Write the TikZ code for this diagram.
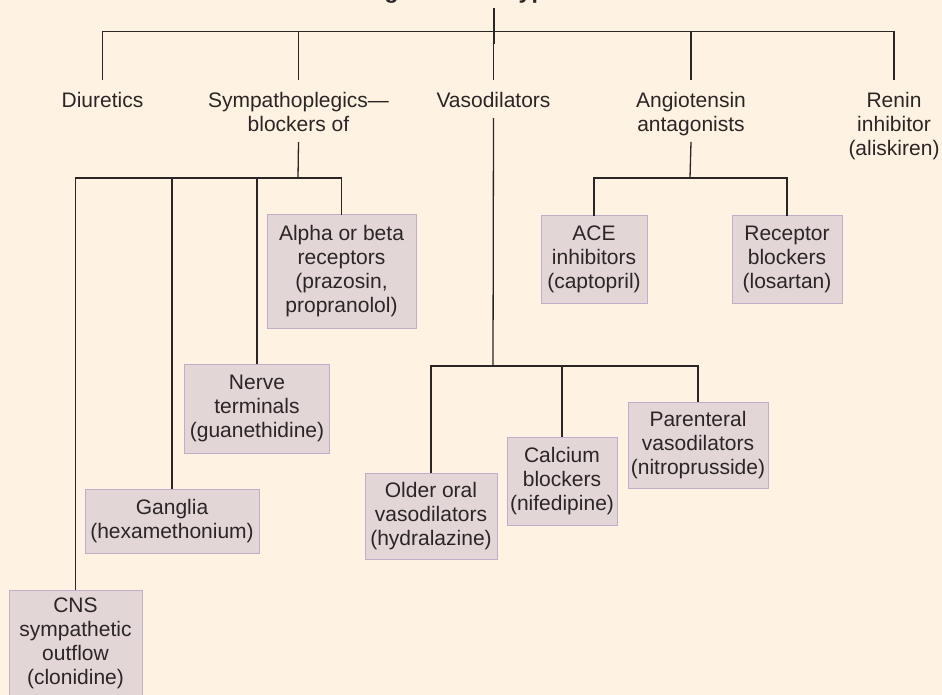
\documentclass[tikz,border=0pt]{standalone}
\usepackage{fontspec}
\setmainfont{Liberation Sans}
\definecolor{bg}{HTML}{FEF3E2}
\definecolor{boxfill}{HTML}{E2D6D7}
\definecolor{boxline}{HTML}{C2ADC9}
\definecolor{ink}{HTML}{2B2526}
\begin{document}
\begin{tikzpicture}[x=1pt,y=-1pt,
  conn/.style={draw=ink, line width=1.3pt},
  lab/.style={text=ink, align=center, inner sep=0pt, outer sep=0pt,
    font=\fontsize{21}{24}\selectfont},
  drugbox/.style={lab, draw=boxline, fill=boxfill, line width=1pt}]
\useasboundingbox (0,0) rectangle (942,695);
\clip (0,0) rectangle (942,695);
\fill[bg] (0,0) rectangle (942,695);

% title (cut off at top edge)
\node[text=ink, inner sep=0pt, anchor=base, font=\bfseries\fontsize{23}{27}\selectfont]
  (title) at (497,-1.5) {Drugs used in hypertension};
\coordinate (roothub) at (494,44);

% first level labels
\node[lab] (diur)  at (102.5,100) {Diuretics};
\node[lab] (symp)  at (298.5,112) {Sympathoplegics---\\blockers of};
\node[lab] (vaso)  at (493.5,100) {Vasodilators};
\node[lab] (angio) at (691,114.2) {Angiotensin\\antagonists};
\node[lab] (renin) at (894,126.2) {Renin\\inhibitor\\(aliskiren)};

% sympathoplegic boxes
\node[drugbox, minimum width=149, minimum height=113] (alpha) at (341.5,271.5)
  {Alpha or beta\\receptors\\(prazosin,\\propranolol)};
\node[drugbox, minimum width=145, minimum height=89] (nerve) at (257,408.5)
  {Nerve\\terminals\\(guanethidine)};
\node[drugbox, minimum width=174, minimum height=64] (gang) at (172,521)
  {Ganglia\\(hexamethonium)};
\node[drugbox, minimum width=133, minimum height=107] (cns) at (75.5,643.5)
  {CNS\\sympathetic\\outflow\\(clonidine)};

% vasodilator boxes
\node[drugbox, minimum width=132, minimum height=86] (older) at (431,516)
  {Older oral\\vasodilators\\(hydralazine)};
\node[drugbox, minimum width=110, minimum height=88] (calc) at (562,481)
  {Calcium\\blockers\\(nifedipine)};
\node[drugbox, minimum width=140, minimum height=86] (paren) at (698,445)
  {Parenteral\\vasodilators\\(nitroprusside)};

% angiotensin boxes
\node[drugbox, minimum width=106, minimum height=87] (ace) at (594,259.5)
  {ACE\\inhibitors\\(captopril)};
\node[drugbox, minimum width=110, minimum height=87] (recep) at (787,259.5)
  {Receptor\\blockers\\(losartan)};

% hubs
\coordinate (symphub) at (298,178);
\coordinate (vasohub) at (493,366);
\coordinate (angiohub) at (690,178);

% top level connectors
\draw[conn] ([yshift=-4.7pt]title.south -| roothub) -- (roothub);
\draw[conn] ([yshift=12.4pt]diur.north) -- ([yshift=12.4pt]diur.north |- roothub)
  -- ([yshift=12.4pt]renin.north |- roothub) -- ([yshift=12.4pt]renin.north);
\draw[conn] ([yshift=12.4pt]symp.north) -- ([yshift=12.4pt]symp.north |- roothub);
\draw[conn] ([yshift=12.4pt]vaso.north) -- ([yshift=12.4pt]vaso.north |- roothub);
\draw[conn] ([yshift=12.4pt]angio.north) -- ([yshift=12.4pt]angio.north |- roothub);

% sympathoplegics branch
\draw[conn] ([yshift=-10.5pt]symp.south) -- (symphub);
\draw[conn] (cns.north) -- (cns.north |- symphub) -- (alpha.north |- symphub) -- (alpha.north);
\draw[conn] (gang.north) -- (gang.north |- symphub);
\draw[conn] (nerve.north) -- (nerve.north |- symphub);

% vasodilators branch
\draw[conn] ([yshift=-10.5pt]vaso.south) -- (vasohub);
\draw[conn] (older.north) -- (older.north |- vasohub) -- (paren.north |- vasohub) -- (paren.north);
\draw[conn] (calc.north) -- (calc.north |- vasohub);

% angiotensin branch
\draw[conn] ([yshift=-6pt]angio.south) -- (angiohub);
\draw[conn] (ace.north) -- (ace.north |- angiohub) -- (recep.north |- angiohub) -- (recep.north);
\end{tikzpicture}
\end{document}
